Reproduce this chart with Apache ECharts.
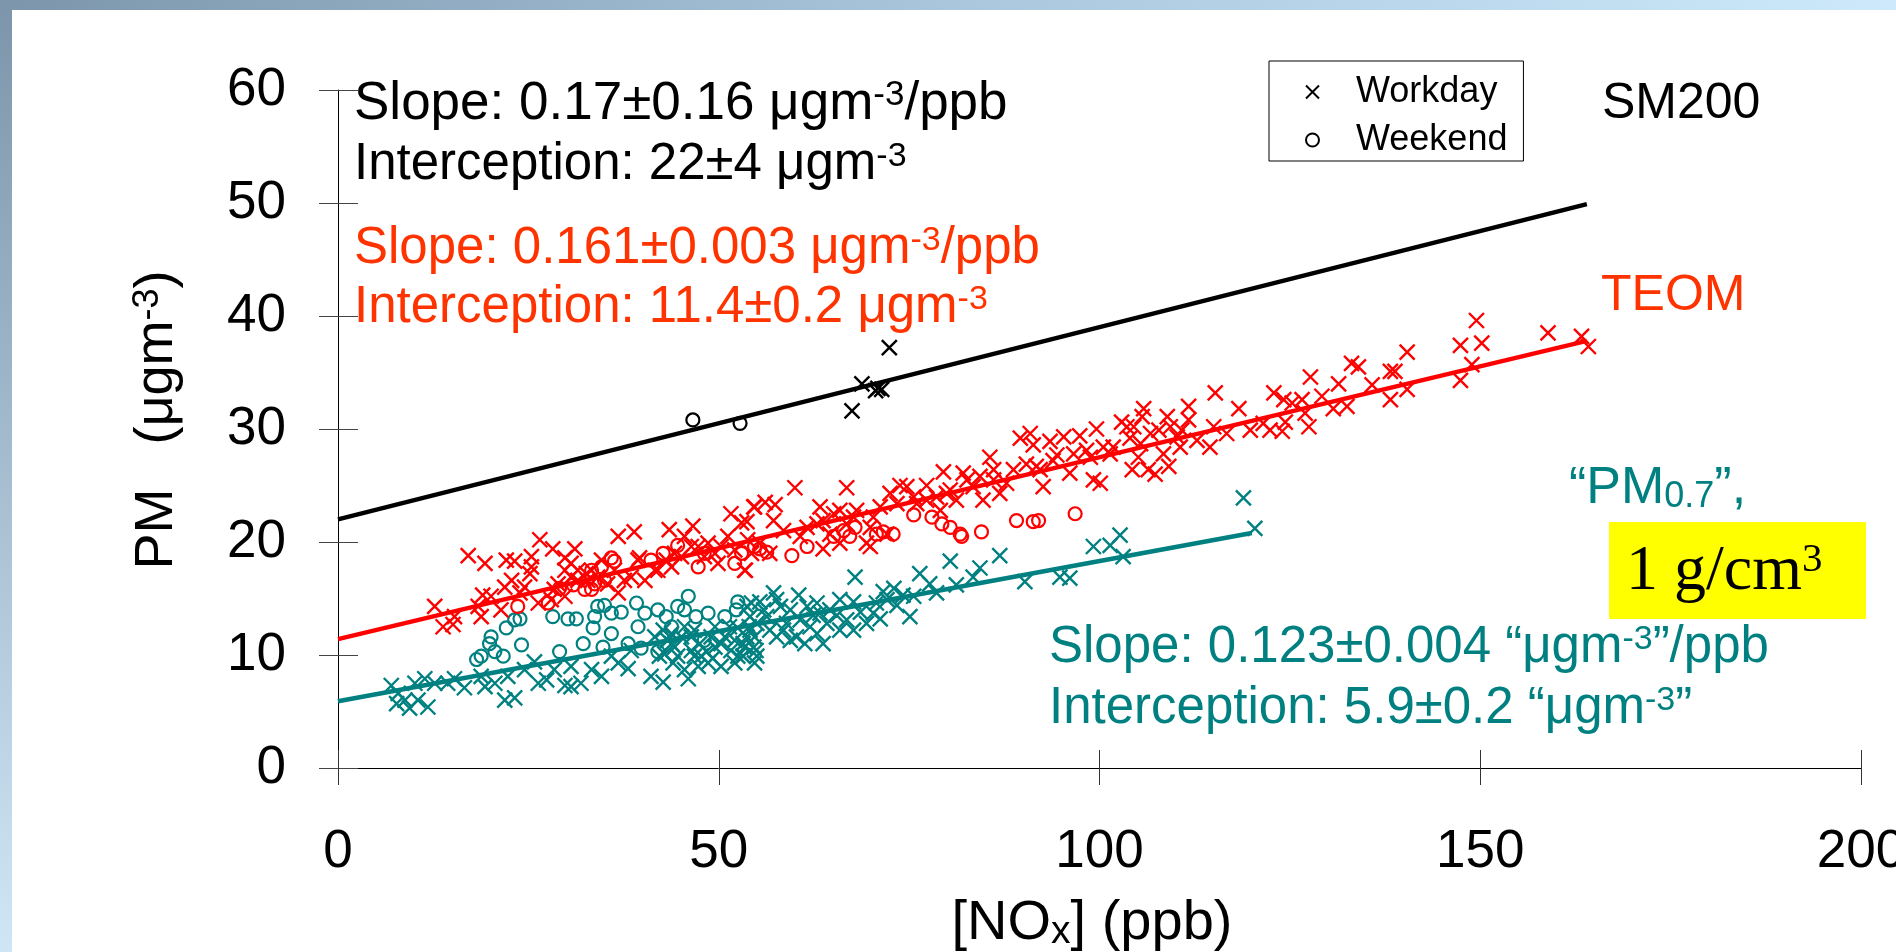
<!DOCTYPE html>
<html><head><meta charset="utf-8">
<script src="https://cdn.jsdelivr.net/npm/echarts@6/dist/echarts.min.js"></script>
<style>html,body{margin:0;padding:0;background:#fff}#c{width:1896px;height:952px}</style>
</head><body><div id="c"></div>
<script>
// ---- axis settings ----
const xMin = 0, xMax = 200, xStep = 50;
const yMin = 0, yMax = 60, yStep = 10;

// ---- SM200 ----
const sm200Workday = [[67.5,31.6],[68.8,34.0],[70.6,33.4],[70.9,33.6],[71.4,33.5],[72.4,37.2]];
const sm200Weekend = [[46.6,30.8],[52.8,30.5]];
const sm200Fit = [[0,22],[164,49.9]];

// ---- TEOM ----
const teomWorkday = [
[17.1,18.8],[19.3,18.1],[22.1,18.4],[23.2,18.3],[25.4,18.7],[26.5,20.2],[28.2,19.4],[29.8,18.6],[31.1,19.4],[36.8,20.5],
[38.9,20.9],[43.5,21.1],[46.6,21.4],[51.6,22.5],[53.0,21.7],[54.7,23.1],[12.7,14.3],[13.8,12.5],[15.1,12.7],[15.3,13.4],
[18.4,14.3],[19.0,15.3],[20.1,15.2],[18.8,13.4],[21.4,14.0],[21.9,16.0],[22.8,16.6],[24.5,16.0],[25.2,17.2],[25.4,17.8],
[23.9,15.5],[26.3,14.6],[28.4,15.8],[29.8,17.5],[30.6,16.9],[31.5,16.6],[33.3,17.5],[34.6,18.4],[35.4,16.3],[36.8,15.5],
[38.5,16.9],[40.3,16.6],[42.0,17.5],[43.8,17.8],[44.2,19.0],[45.5,20.5],[47.3,19.6],[48.6,19.9],[49.9,18.1],[51.2,20.5],
[53.4,17.5],[54.3,19.0],[28.0,14.9],[29.8,15.2],[30.6,18.1],[32.6,17.2],[39.6,18.6],[49.5,19.0],
[28.9,16.3],[31.5,17.5],[32.8,16.6],[34.1,16.9],[36.3,17.5],[37.6,16.6],[39.4,18.4],[41.6,17.5],[43.1,18.4],[45.1,18.7],
[46.4,19.6],[48.1,18.7],[50.3,19.6],[52.1,19.3],[53.8,20.2],
[60.0,24.8],[66.8,24.8],[54.6,23.1],[56.1,23.5],[57.4,23.3],[53.7,21.8],[57.2,21.9],[58.5,21.0],[61.6,21.3],[62.9,21.6],
[63.3,23.1],[64.6,20.7],[65.9,22.8],[66.8,21.6],[67.7,22.2],[69.4,19.9],[69.9,21.3],[71.2,23.1],[72.5,24.3],[73.8,25.0],
[74.7,24.9],[76.0,23.4],[77.3,25.0],[78.6,24.0],[79.5,26.2],[80.4,24.6],[81.2,23.7],[82.1,26.1],[83.4,24.9],[84.7,23.7],
[85.6,27.5],[86.1,26.4],[86.9,24.3],[87.8,25.2],[89.6,29.2],[90.9,29.6],[91.3,28.6],[92.2,26.4],[92.6,24.9],[93.5,28.9],
[94.4,27.7],[95.3,29.3],[96.1,26.1],[97.4,29.4],[98.3,28.1],[99.2,25.5],[99.6,30.0],[91.7,26.7],[55.4,19.9],[53.5,17.5],
[56.7,19.0],[65.9,19.9],[69.9,19.6],[72.1,20.7],[79.1,22.8],[63.7,19.4],[60.7,20.5],
[63.7,21.9],[65.1,22.5],[68.1,22.8],[70.3,22.2],[73.4,23.4],[75.6,24.0],[77.3,23.7],[79.9,24.3],[82.6,25.5],[84.3,25.8],
[86.1,25.5],[88.7,26.4],[90.4,26.9],[93.9,27.2],[96.6,27.8],[98.8,27.5],[101.8,28.4],
[149.5,39.6],[147.4,37.4],[150.2,37.6],[148.9,35.7],[147.4,34.3],[140.4,36.8],[138.2,35.1],[138.8,35.1],[138.2,32.6],[140.4,33.5],
[135.8,33.9],[133.1,35.8],[134.0,35.5],[131.4,34.0],[132.5,32.0],[130.7,31.8],[129.2,32.9],[127.7,34.6],[126.6,32.6],[127.0,31.4],
[127.5,30.2],[125.3,32.3],[124.2,32.6],[122.9,33.2],[124.4,30.6],[124.0,29.8],[122.4,29.9],[121.5,30.5],[119.8,29.9],[118.3,31.8],
[116.7,29.6],[115.2,33.2],[115.0,30.2],[114.5,28.4],[111.7,32.0],[111.7,30.8],[112.8,29.0],[110.8,29.9],[110.6,28.4],[109.3,30.2],
[109.1,26.7],[108.4,27.8],[107.8,29.9],[107.3,26.0],[106.4,26.4],[105.8,31.8],[105.6,31.1],[105.4,28.7],[105.1,27.5],[104.3,26.4],
[104.0,29.2],[102.9,30.6],[103.6,30.2],[101.4,27.8],[100.5,28.4],[100.1,25.2],[104.5,30.2],[110.2,29.3],[108.9,31.1],[106.7,29.6],
[158.9,38.5],[163.3,38.2],[164.2,37.3]
];
const teomWeekend = [
[23.6,14.3],[27.6,14.6],[29.1,15.9],[32.4,15.8],[33.3,17.5],[34.6,17.8],[35.9,18.6],[36.3,18.3],[33.7,16.3],[33.3,15.8],
[41.1,18.4],[42.7,19.0],[44.6,19.7],[47.3,17.8],[48.1,19.0],[52.1,18.1],[53.0,19.0],[54.7,19.6],[30.9,16.2],[35.0,16.6],
[75.6,22.4],[78.0,22.2],[79.3,21.6],[80.4,21.3],[81.7,20.7],[81.9,20.5],[84.5,20.9],[89.1,21.9],[91.3,21.8],[92.0,21.9],
[96.8,22.5],[71.6,20.9],[72.9,20.7],[70.7,20.7],[67.9,21.3],[67.2,20.5],[65.1,20.5],[66.4,21.0],[61.6,19.6],[59.6,18.8],
[55.4,19.4],[56.3,19.1]
];
const teomFit = [[0,11.4],[164,37.8]];

// ---- "PM0.7" ----
const pmWorkday = [
[7.0,7.3],[7.9,6.6],[7.7,5.7],[8.8,6.0],[9.4,5.3],[10.5,6.0],[11.8,5.4],[10.1,7.5],[11.4,7.9],[12.7,7.5],
[14.4,7.5],[15.3,7.9],[16.6,7.1],[18.8,8.1],[19.3,7.2],[20.6,7.5],[21.9,6.0],[23.2,6.2],[22.3,8.1],[24.5,8.7],
[25.8,9.4],[26.3,7.5],[27.4,7.8],[29.8,7.3],[30.6,7.2],[31.9,7.5],[33.3,8.7],[34.6,8.1],[36.8,9.3],[38.1,8.8],
[41.1,8.1],[42.7,7.6],[46.0,7.9],[47.3,9.0],[50.3,9.0],[52.5,9.9],[42.9,10.1],[43.8,11.0],[45.1,11.6],[46.4,10.4],
[47.7,9.9],[49.0,11.6],[50.3,11.0],[51.6,10.4],[53.4,10.7],[54.7,11.6],[54.3,14.6],[43.8,11.9],[41.6,11.6],[46.8,12.2],
[49.5,12.5],[52.5,12.4],[38.5,10.4],[35.9,9.9],[30.6,9.0],[28.4,8.7],[44.6,9.9],[45.5,8.7],[48.6,9.3],
[42.7,12.2],[43.3,11.3],[44.2,10.7],[45.5,12.5],[46.4,11.6],[47.5,11.0],[48.4,10.3],[49.5,10.7],[50.8,11.6],[51.4,12.5],
[52.1,11.3],[53.2,9.9],[54.0,12.5],[54.9,10.4],[42.2,9.9],[44.0,9.3],[46.8,9.9],[49.2,9.7],[52.1,9.3],[54.7,9.3],
[67.9,16.9],[80.4,18.3],[86.9,18.8],[84.3,17.7],[81.2,16.2],[78.6,15.5],[76.4,17.2],[77.7,16.3],[75.6,15.2],[74.2,15.3],
[73.4,14.4],[71.6,15.6],[70.7,14.6],[71.2,13.2],[69.4,12.8],[68.6,13.8],[67.7,14.7],[65.9,14.9],[65.5,13.5],[64.2,12.8],
[62.9,14.6],[62.4,13.5],[60.5,15.3],[60.7,13.1],[59.4,14.0],[58.5,12.2],[60.2,11.6],[61.3,11.0],[63.7,11.0],[57.2,15.5],
[57.6,14.9],[55.4,14.7],[55.9,14.0],[54.1,13.4],[53.7,11.6],[54.6,10.7],[53.2,9.9],[55.0,9.9],[90.2,16.5],[94.8,16.9],
[96.1,16.8],[99.2,19.6],[102.7,20.6],[103.1,18.7],[101.4,19.7],[75.1,13.4],[73.0,15.9],[83.4,16.9],
[53.7,14.3],[55.0,12.8],[56.3,13.4],[56.7,12.2],[58.1,14.3],[58.9,12.8],[61.6,14.3],[62.0,12.5],[63.3,13.7],[64.6,14.0],
[66.8,13.1],[67.7,12.2],[65.9,12.2],[70.3,13.7],[72.1,14.9],[54.1,12.2],[57.6,11.6],[59.4,11.3],[62.9,11.9],[53.2,11.0],
[118.9,23.9],[120.4,21.2]
];
const pmWeekend = [
[20.1,11.6],[19.9,11.0],[18.8,9.9],[18.2,9.6],[21.7,9.9],[20.6,10.3],[22.1,12.4],[23.2,13.1],[23.9,13.2],[24.1,10.9],
[28.2,13.4],[30.2,13.2],[31.3,13.2],[32.2,11.0],[29.1,10.3],[34.1,14.3],[35.0,14.4],[33.7,13.4],[33.5,12.4],[35.9,13.7],
[37.2,13.8],[35.9,11.9],[34.8,10.7],[39.2,14.6],[39.4,12.5],[40.3,13.7],[42.0,14.0],[43.1,13.4],[44.6,14.3],[46.0,15.2],
[45.5,14.0],[47.0,13.4],[48.6,13.7],[50.8,13.4],[52.5,14.7],[52.3,14.0],[38.1,11.0],[39.8,10.6],[42.0,10.3],[43.8,12.5],
[48.1,11.3]
];
const pmFit = [[0,5.9],[120,20.8]];

// ---- colours / style ----
const RED = '#ff0000', RED_TXT = '#ff3300', TEAL = '#008080', BLACK = '#000000';
const FONT = 'Liberation Sans';
const CROSS = 'path://M0,0L10,10M10,0L0,10';

function crossSeries(name, data, color) {
  return { name, type: 'scatter', data, symbol: CROSS, symbolSize: 15,
    itemStyle: { color: 'rgba(0,0,0,0)', borderColor: color, borderWidth: 2.4, opacity: 1 },
    xAxisIndex: 0, yAxisIndex: 0, z: 3, silent: true };
}
function circleSeries(name, data, color) {
  return { name, type: 'scatter', data, symbol: 'circle', symbolSize: 13,
    itemStyle: { color: 'rgba(0,0,0,0)', borderColor: color, borderWidth: 2.2, opacity: 1 },
    xAxisIndex: 0, yAxisIndex: 0, z: 3, silent: true };
}
function fitSeries(name, data, color) {
  return { name, type: 'line', data, symbol: 'none', lineStyle: { color, width: 4.5 },
    xAxisIndex: 0, yAxisIndex: 0, z: 4, silent: true, animation: false };
}

function txt(x, y, text, color, size, extra) {
  return Object.assign({
    type: 'text', x, y, z: 10,
    style: Object.assign({
      text, fill: color, fontSize: size, fontFamily: FONT, lineHeight: size,
      align: 'left', verticalAlign: 'middle', textAlign: 'left', textVerticalAlign: 'middle',
      rich: {
        sup: { fontSize: Math.round(size * 0.66), lineHeight: Math.round(size * 0.56), verticalAlign: 'top', fill: color, fontFamily: FONT },
        sub: { fontSize: Math.round(size * 0.7), lineHeight: Math.round(size * 0.46), verticalAlign: 'bottom', fill: color, fontFamily: FONT },
        gap: { width: 44, fontSize: size, fill: color }
      }
    }, extra || {})
  });
}

const chart = echarts.init(document.getElementById('c'), null, { renderer: 'canvas' });
const axisLabelFont = { fontSize: 53, fontFamily: FONT, color: '#000' };

chart.setOption({
  animation: false,
  backgroundColor: '#ffffff',
  grid: { left: 338, right: 35, top: 90, bottom: 184, containLabel: false, outerBoundsMode: 'none' },
  xAxis: [
    { type: 'value', min: xMin, max: xMax, interval: xStep, position: 'bottom',
      axisLine: { show: true, onZero: false, lineStyle: { color: '#000', width: 1 } },
      axisTick: { show: true, length: 17, lineStyle: { color: '#333', width: 1 } },
      axisLabel: Object.assign({ margin: 58 }, axisLabelFont), splitLine: { show: false } },
    { type: 'value', min: xMin, max: xMax, interval: xStep, position: 'bottom',
      axisLine: { show: false }, axisTick: { show: true, inside: true, length: 18, lineStyle: { color: '#333', width: 1 } },
      axisLabel: { show: false }, splitLine: { show: false } }
  ],
  yAxis: [
    { type: 'value', min: yMin, max: yMax, interval: yStep, position: 'left',
      axisLine: { show: true, onZero: false, lineStyle: { color: '#000', width: 1 } },
      axisTick: { show: true, length: 19, lineStyle: { color: '#444', width: 1 } },
      axisLabel: Object.assign({ margin: 52 }, axisLabelFont), splitLine: { show: false } },
    { type: 'value', min: yMin, max: yMax, interval: yStep, position: 'left',
      axisLine: { show: false }, axisTick: { show: true, inside: true, length: 20, lineStyle: { color: '#444', width: 1 } },
      axisLabel: { show: false }, splitLine: { show: false } }
  ],
  legend: {
    data: ['Workday', 'Weekend'], orient: 'vertical', left: 1269, top: 61,
    padding: [13, 16, 3, 36], itemWidth: 13, itemHeight: 13, itemGap: 12,
    borderColor: '#000', borderWidth: 1, backgroundColor: '#fff', selectedMode: false,
    textStyle: { fontSize: 36, fontFamily: FONT, color: '#000', padding: [0, 0, 0, 32] }
  },
  series: [
    crossSeries('PM Workday', pmWorkday, TEAL),
    circleSeries('PM Weekend', pmWeekend, TEAL),
    crossSeries('TEOM Workday', teomWorkday, RED),
    circleSeries('TEOM Weekend', teomWeekend, RED),
    crossSeries('Workday', sm200Workday, BLACK),
    circleSeries('Weekend', sm200Weekend, BLACK),
    fitSeries('PM fit', pmFit, TEAL),
    fitSeries('TEOM fit', teomFit, RED),
    fitSeries('SM200 fit', sm200Fit, BLACK)
  ],
  graphic: { elements: [
    { type: 'rect', z: 0, shape: { x: 0, y: 0, width: 1896, height: 10 },
      style: { fill: new echarts.graphic.LinearGradient(0, 0, 1, 0, [{ offset: 0, color: '#7c95aa' }, { offset: 0.5, color: '#a9c6dc' }, { offset: 1, color: '#cde9fb' }]) } },
    { type: 'rect', z: 0, shape: { x: 0, y: 0, width: 12, height: 952 },
      style: { fill: new echarts.graphic.LinearGradient(0, 0, 0, 1, [{ offset: 0, color: '#7c95aa' }, { offset: 1, color: '#cfe6f6' }]) } },
    txt(354, 104, 'Slope: 0.17±0.16 μgm{sup|-3}/ppb', BLACK, 53),
    txt(354, 165, 'Interception: 22±4 μgm{sup|-3}', BLACK, 51),
    txt(354, 249, 'Slope: 0.161±0.003 μgm{sup|-3}/ppb', RED_TXT, 51),
    txt(354, 308, 'Interception: 11.4±0.2 μgm{sup|-3}', RED_TXT, 51),
    txt(1049, 648, 'Slope: 0.123±0.004 “μgm{sup|-3}”/ppb', TEAL, 51),
    txt(1049, 709, 'Interception: 5.9±0.2 “μgm{sup|-3}”', TEAL, 51),
    txt(1602, 104, 'SM200', BLACK, 50),
    txt(1601, 296, 'TEOM', RED_TXT, 50),
    txt(1569, 489, '“PM{sub|0.7}”,', TEAL, 52),
    { type: 'rect', z: 9, shape: { x: 1609, y: 522, width: 257, height: 97 }, style: { fill: '#ffff00' } },
    txt(1626, 572, '1 g/cm{sup|3}', BLACK, 64, { fontFamily: 'Liberation Serif',
      rich: { sup: { fontSize: 41, lineHeight: 34, verticalAlign: 'top', fill: BLACK, fontFamily: 'Liberation Serif' } } }),
    txt(1092, 924, '[NO{sub|x}] (ppb)', BLACK, 56, { align: 'center', textAlign: 'center' }),
    Object.assign(txt(157, 420, 'PM{gap| }(μgm{sup|-3})', BLACK, 54, { align: 'center', textAlign: 'center' }), { rotation: Math.PI / 2 })
  ] }
});
</script></body></html>
